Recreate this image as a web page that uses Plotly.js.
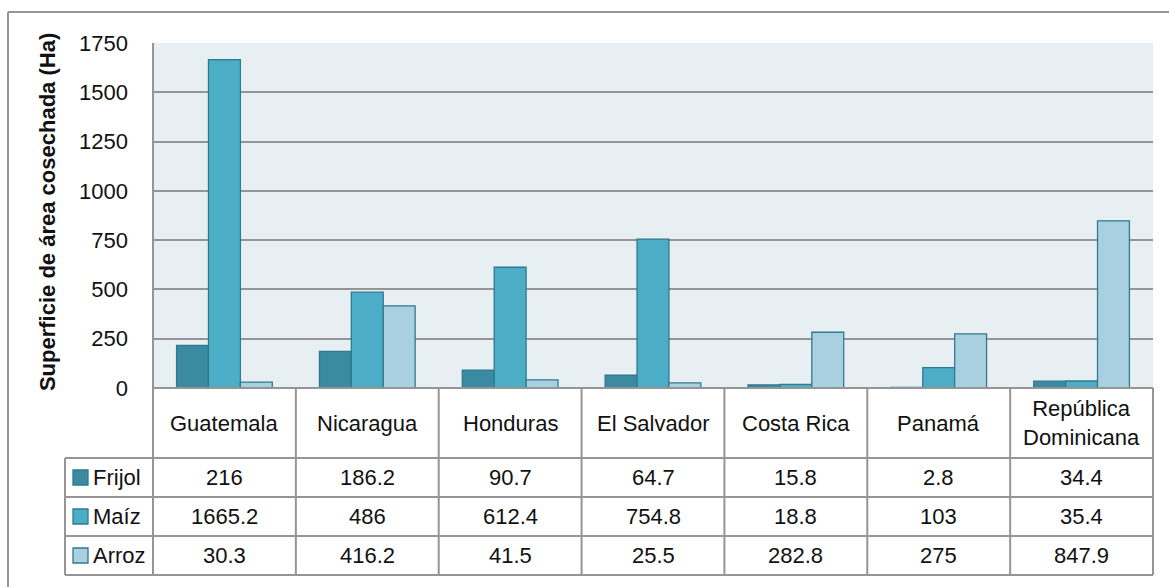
<!DOCTYPE html>
<html>
<head>
<meta charset="utf-8">
<script src="https://cdn.plot.ly/plotly-3.0.1.min.js"></script>
<style>
html,body{margin:0;padding:0;background:#fff;}
#chart{width:1169px;height:587px;}
</style>
</head>
<body>
<div id="chart"></div>
<script>
// ---- data ----
const categories = ['Guatemala', 'Nicaragua', 'Honduras', 'El Salvador', 'Costa Rica', 'Panamá', 'República<br>Dominicana'];
const seriesNames = ['Frijol', 'Maíz', 'Arroz'];
const frijol = [216, 186.2, 90.7, 64.7, 15.8, 2.8, 34.4];
const maiz = [1665.2, 486, 612.4, 754.8, 18.8, 103, 35.4];
const arroz = [30.3, 416.2, 41.5, 25.5, 282.8, 275, 847.9];
const yTickVals = [0, 250, 500, 750, 1000, 1250, 1500, 1750];
const yTitle = 'Superficie de área cosechada (Ha)';

// ---- styles ----
const colors = ['#3A8AA2', '#4BADC6', '#A9D0DE'];
const edge = '#2F7A90';
const gridCol = '#959595';
const FONT = "'Liberation Sans', Arial, sans-serif";
const fs = 22;

const seriesVals = [frijol, maiz, arroz];
const traces = seriesVals.map((vals, k) => ({
  type: 'bar',
  name: seriesNames[k],
  x: categories,
  y: vals,
  marker: {color: colors[k], line: {color: edge, width: 1.3}},
  hoverinfo: 'x+y+name'
}));

// layout geometry (pixels)
const W = 1169, Hh = 587;
const mL = 153, mR = 16, mT = 43, mB = 199;
const plotW = W - mL - mR, plotH = Hh - mT - mB;
const n = categories.length;
const px2x = p => p / plotW;        // horizontal pixels (from plot left) -> paper
const py = p => -p / plotH;         // pixels below axis -> paper
const headerH = 70, rowH = 39;
const legLeft = -88;                 // legend column left, px from plot left
const frameTop = py(-(plotH + mT - 12));
const frameLeft = px2x(-145);

const shapes = [];
const annotations = [];
const lineStyle = {color: gridCol, width: 2};

// outer frame (left and top visible)
shapes.push({type: 'line', xref: 'paper', yref: 'paper', x0: frameLeft, x1: frameLeft, y0: frameTop, y1: py(230), line: lineStyle});
shapes.push({type: 'line', xref: 'paper', yref: 'paper', x0: frameLeft, x1: px2x(plotW + 40), y0: frameTop, y1: frameTop, line: lineStyle});

// plot area left border
shapes.push({type: 'line', xref: 'paper', yref: 'paper', x0: 0, x1: 0, y0: 0, y1: 1, line: lineStyle});
// table vertical lines
for (let i = 0; i <= n; i++) {
  shapes.push({type: 'line', xref: 'paper', yref: 'paper', x0: i / n, x1: i / n, y0: 0, y1: py(headerH + 3 * rowH), line: lineStyle});
}
shapes.push({type: 'line', xref: 'paper', yref: 'paper', x0: px2x(legLeft), x1: px2x(legLeft), y0: py(headerH), y1: py(headerH + 3 * rowH), line: lineStyle});
// table horizontal lines
shapes.push({type: 'line', xref: 'paper', yref: 'paper', x0: 0, x1: 1, y0: 0, y1: 0, line: lineStyle});
for (let r = 0; r <= 3; r++) {
  const y = py(headerH + r * rowH);
  shapes.push({type: 'line', xref: 'paper', yref: 'paper', x0: px2x(legLeft), x1: 1, y0: y, y1: y, line: lineStyle});
}

// header labels
categories.forEach((c, i) => {
  annotations.push({xref: 'paper', yref: 'paper', x: (i + 0.5) / n, y: py(headerH / 2), text: c,
    showarrow: false, xanchor: 'center', yanchor: 'middle', align: 'center',
    font: {family: FONT, size: fs, color: '#111'}});
});
// rows
seriesVals.forEach((vals, r) => {
  const yc = py(headerH + r * rowH + rowH / 2);
  vals.forEach((v, i) => {
    annotations.push({xref: 'paper', yref: 'paper', x: (i + 0.5) / n, y: yc, text: String(v),
      showarrow: false, xanchor: 'center', yanchor: 'middle',
      font: {family: FONT, size: fs, color: '#111'}});
  });
  // legend key
  const yTop = headerH + r * rowH + rowH / 2 - 7.5;
  shapes.push({type: 'rect', xref: 'paper', yref: 'paper', x0: px2x(-80), x1: px2x(-65), y0: py(yTop), y1: py(yTop + 15),
    fillcolor: colors[r], line: {color: edge, width: 1.3}});
  annotations.push({xref: 'paper', yref: 'paper', x: px2x(-62), y: yc, text: seriesNames[r],
    showarrow: false, xanchor: 'left', yanchor: 'middle',
    font: {family: FONT, size: fs, color: '#111'}});
});

// y title
annotations.push({xref: 'paper', yref: 'paper', x: px2x(-106), y: 0.51, text: '<b>' + yTitle + '</b>',
  textangle: -90, showarrow: false, xanchor: 'center', yanchor: 'middle',
  font: {family: FONT, size: 22, color: '#111'}});

const layout = {
  width: W, height: Hh,
  margin: {l: mL, r: mR, t: mT, b: mB, pad: 0},
  paper_bgcolor: '#ffffff',
  plot_bgcolor: '#E7EFF3',
  barmode: 'group',
  bargap: 0.33,
  bargroupgap: 0,
  showlegend: false,
  font: {family: FONT, size: fs, color: '#111'},
  xaxis: {type: 'category', range: [-0.5, n - 0.5], showticklabels: false, ticks: '',
    showgrid: false, zeroline: false, showline: false, fixedrange: true},
  yaxis: {range: [0, 1750], tickvals: yTickVals, ticktext: yTickVals.map(String),
    showgrid: true, gridcolor: gridCol, gridwidth: 2, zeroline: false,
    showline: false, ticks: '', ticklabelstandoff: 24,
    tickfont: {family: FONT, size: fs, color: '#111'}, fixedrange: true},
  shapes: shapes,
  annotations: annotations
};

Plotly.newPlot('chart', traces, layout, {displayModeBar: false, staticPlot: true});
</script>
</body>
</html>
